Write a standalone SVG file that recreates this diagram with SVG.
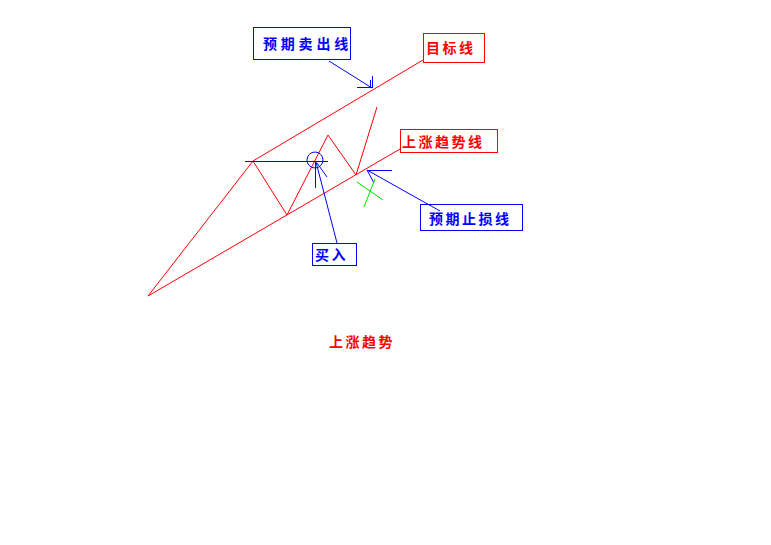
<svg xmlns="http://www.w3.org/2000/svg" width="771" height="545" viewBox="0 0 771 545">
<style>
.r{stroke:#ff0000;fill:none;stroke-width:1}
.b{stroke:#0000ff;fill:none;stroke-width:1}
.g{stroke:#00e000;fill:none;stroke-width:1}
.tb{fill:#0000ff;font-family:"Noto Sans CJK SC",sans-serif;font-weight:bold;font-size:14px;letter-spacing:2.5px}
.tr{fill:#ff0000;font-family:"Noto Sans CJK SC",sans-serif;font-weight:bold;font-size:14px;letter-spacing:2.5px}
</style>
<rect width="771" height="545" fill="#ffffff"/>
<g id="connectors">
<path class="r" d="M148,296 L400,149"/>
<path class="r" d="M253,161 L423,60"/>
<path class="r" d="M148,296 L253,161 L287,215 L328,135 L356,175 L377,107"/>
<path class="b" d="M245,161.5 H328"/>
<circle class="b" cx="315" cy="160" r="8"/>
<path class="b" d="M337,243 L316,162 M315.5,162 V188 M317,163 L327,177"/>
<path class="b" d="M329,61 L372,88 M357,87.5 H372 M370.5,80 V88 M372.5,76 V88"/>
<path class="b" d="M440,211 L367,170 M367,170.5 H392 M367,170 L374,183"/>
<path class="g" d="M357,182 L383,200 M375,179 L364,207"/>
</g>
<g id="node-sell">
<rect class="b" x="253.5" y="27.5" width="97" height="32"/>
<text class="tb" x="263" y="49" style="letter-spacing:3.8px">预期卖出线</text>
</g>
<g id="node-target">
<rect class="r" x="423.5" y="33.5" width="61" height="29"/>
<text class="tr" x="426" y="53">目标线</text>
</g>
<g id="node-uptrendline">
<rect class="r" x="400.5" y="129.5" width="97" height="23"/>
<text class="tr" x="402" y="147">上涨趋势线</text>
</g>
<g id="node-stop">
<rect class="b" x="420.5" y="204.5" width="102" height="26"/>
<text class="tb" x="429" y="224">预期止损线</text>
</g>
<g id="node-buy">
<rect class="b" x="312.5" y="243.5" width="44" height="22"/>
<text class="tb" x="315" y="260">买入</text>
</g>
<g id="title">
<text class="tr" x="329" y="347">上涨趋势</text>
</g>
</svg>
